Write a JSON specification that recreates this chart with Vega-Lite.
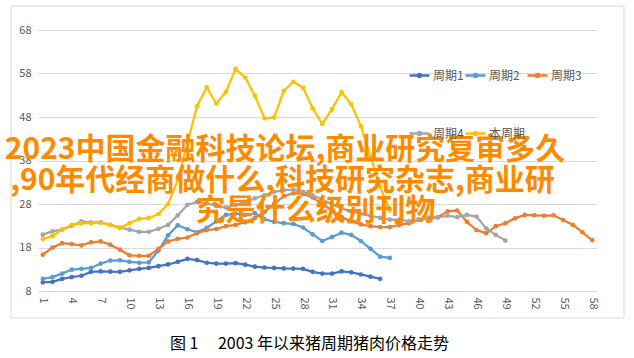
{
  "$schema": "https://vega.github.io/schema/vega-lite/v6.json",
  "width": 559,
  "height": 261,
  "autosize": {"type": "none"},
  "padding": {"left": 38, "top": 30, "right": 37, "bottom": 67},
  "background": "white",
  "title": {
    "text": "图 1\u3000 2003 年以来猪周期猪肉价格走势",
    "orient": "bottom",
    "anchor": "middle",
    "fontSize": 16,
    "fontWeight": "normal",
    "font": "Noto Sans CJK SC",
    "color": "#000000",
    "offset": 18,
    "dx": -8
  },
  "config": {
    "view": {"stroke": null},
    "font": "Noto Sans CJK SC",
    "axis": {"labelColor": "#595959", "labelFontSize": 11, "titleColor": "#595959"}
  },
  "layer": [
    {
      "data": {"values": [{"box": "chart area"}]},
      "mark": {"type": "rect", "fill": null, "stroke": "#D9D9D9", "strokeWidth": 1, "clip": false},
      "encoding": {
        "x": {
          "datum": -2.3, "type": "quantitative",
          "axis": {
            "title": null, "grid": false, "ticks": false,
            "values": [1,4,7,10,13,16,19,22,25,28,31,34,37,40,43,46,49,52,55,58],
            "labelAngle": 90, "labelAlign": "left", "labelBaseline": "middle",
            "labelOverlap": false, "labelPadding": 6,
            "domainColor": "#D9D9D9", "domainWidth": 1
          }
        },
        "x2": {"datum": 61.3},
        "y": {
          "datum": 73.5, "type": "quantitative",
          "axis": {
            "title": null, "grid": true, "gridColor": "#D9D9D9", "domain": false, "ticks": false,
            "values": [8,18,28,38,48,58,68], "labelPadding": 7
          }
        },
        "y2": {"datum": 1.8}
      }
    },
    {
      "data": {
        "values": [
          {"idx":1,"周期1":10.0,"周期2":10.8,"周期3":16.35,"周期4":20.95,"本周期":19.95},
          {"idx":2,"周期1":10.1,"周期2":11.2,"周期3":18.0,"周期4":21.7,"本周期":20.6},
          {"idx":3,"周期1":10.8,"周期2":12.0,"周期3":19.0,"周期4":22.1,"本周期":22.1},
          {"idx":4,"周期1":11.2,"周期2":12.9,"周期3":18.8,"周期4":23.0,"本周期":23.2},
          {"idx":5,"周期1":11.5,"周期2":13.1,"周期3":18.5,"周期4":24.0,"本周期":23.6},
          {"idx":6,"周期1":12.4,"周期2":13.3,"周期3":19.2,"周期4":23.8,"本周期":23.6},
          {"idx":7,"周期1":12.5,"周期2":14.3,"周期3":19.4,"周期4":23.8,"本周期":23.7},
          {"idx":8,"周期1":12.45,"周期2":15.0,"周期3":18.65,"周期4":23.2,"本周期":23.2},
          {"idx":9,"周期1":12.4,"周期2":15.05,"周期3":17.5,"周期4":22.6,"本周期":22.5},
          {"idx":10,"周期1":12.75,"周期2":14.7,"周期3":16.2,"周期4":22.1,"本周期":23.6},
          {"idx":11,"周期1":13.1,"周期2":14.5,"周期3":16.1,"周期4":21.6,"本周期":24.6},
          {"idx":12,"周期1":13.3,"周期2":14.6,"周期3":16.1,"周期4":21.6,"本周期":24.8},
          {"idx":13,"周期1":13.7,"周期2":17.3,"周期3":17.7,"周期4":22.3,"本周期":25.7},
          {"idx":14,"周期1":14.1,"周期2":20.8,"周期3":19.4,"周期4":23.2,"本周期":28.0},
          {"idx":15,"周期1":14.7,"周期2":23.1,"周期3":20.0,"周期4":25.4,"本周期":33.5},
          {"idx":16,"周期1":15.4,"周期2":22.2,"周期3":20.3,"周期4":27.8,"本周期":42.0},
          {"idx":17,"周期1":15.1,"周期2":21.5,"周期3":21.3,"周期4":28.5,"本周期":50.5},
          {"idx":18,"周期1":14.5,"周期2":22.5,"周期3":22.0,"周期4":28.2,"本周期":54.8},
          {"idx":19,"周期1":14.3,"周期2":24.0,"周期3":22.25,"周期4":27.5,"本周期":51.1},
          {"idx":20,"周期1":14.3,"周期2":25.5,"周期3":22.9,"周期4":27.2,"本周期":53.8},
          {"idx":21,"周期1":14.4,"周期2":25.8,"周期3":23.2,"周期4":27.8,"本周期":59.0},
          {"idx":22,"周期1":14.05,"周期2":25.5,"周期3":23.8,"周期4":28.5,"本周期":57.1},
          {"idx":23,"周期1":13.6,"周期2":25.9,"周期3":24.8,"周期4":29.3,"本周期":52.9},
          {"idx":24,"周期1":13.4,"周期2":24.5,"周期3":26.2,"周期4":30.0,"本周期":47.7},
          {"idx":25,"周期1":13.3,"周期2":23.9,"周期3":28.0,"周期4":30.8,"本周期":47.9},
          {"idx":26,"周期1":13.2,"周期2":23.6,"周期3":29.8,"周期4":31.2,"本周期":54.0},
          {"idx":27,"周期1":13.15,"周期2":23.4,"周期3":30.5,"周期4":31.3,"本周期":56.1},
          {"idx":28,"周期1":13.1,"周期2":22.6,"周期3":30.3,"周期4":30.8,"本周期":54.7},
          {"idx":29,"周期1":12.4,"周期2":21.0,"周期3":29.5,"周期4":30.0,"本周期":50.0},
          {"idx":30,"周期1":12.0,"周期2":19.5,"周期3":28.0,"周期4":29.0,"本周期":46.4},
          {"idx":31,"周期1":12.0,"周期2":20.4,"周期3":26.5,"周期4":28.0,"本周期":49.8},
          {"idx":32,"周期1":12.5,"周期2":21.4,"周期3":25.0,"周期4":27.0,"本周期":53.7},
          {"idx":33,"周期1":12.3,"周期2":20.9,"周期3":24.0,"周期4":26.3,"本周期":50.9},
          {"idx":34,"周期1":11.8,"周期2":19.5,"周期3":23.3,"周期4":25.8,"本周期":45.9},
          {"idx":35,"周期1":11.3,"周期2":17.7,"周期3":22.9,"周期4":25.3,"本周期":38.9},
          {"idx":36,"周期1":10.8,"周期2":15.9,"周期3":22.7,"周期4":24.8,"本周期":32.0},
          {"idx":37,"周期2":15.6,"周期3":22.7,"周期4":24.4,"本周期":26.5},
          {"idx":38,"周期3":23.2,"周期4":24.4},
          {"idx":39,"周期3":23.6,"周期4":24.0},
          {"idx":40,"周期3":24.4,"周期4":24.4},
          {"idx":41,"周期3":24.8,"周期4":24.8},
          {"idx":42,"周期3":25.0,"周期4":24.9},
          {"idx":43,"周期3":26.3,"周期4":25.3},
          {"idx":44,"周期3":26.5,"周期4":25.0},
          {"idx":45,"周期3":23.9,"周期4":25.5},
          {"idx":46,"周期3":22.0,"周期4":25.1},
          {"idx":47,"周期3":21.3,"周期4":22.4},
          {"idx":48,"周期3":22.9,"周期4":20.9},
          {"idx":49,"周期3":23.6,"周期4":19.6},
          {"idx":50,"周期3":24.7},
          {"idx":51,"周期3":25.5},
          {"idx":52,"周期3":25.4},
          {"idx":53,"周期3":25.3},
          {"idx":54,"周期3":25.4},
          {"idx":55,"周期3":24.3},
          {"idx":56,"周期3":23.2},
          {"idx":57,"周期3":21.5},
          {"idx":58,"周期3":19.7}
        ]
      },
      "transform": [
        {"fold": ["周期1", "周期2", "周期3", "周期4", "本周期"], "as": ["series", "price"]},
        {"filter": "datum.price != null"}
      ],
      "mark": {"type": "line", "strokeWidth": 2.25, "point": {"filled": true, "size": 22}},
      "encoding": {
        "x": {
          "field": "idx", "type": "quantitative",
          "scale": {"domain": [0.5, 58.5], "nice": false, "zero": false},
          "axis": {
            "title": null, "grid": false, "ticks": false,
            "values": [1,4,7,10,13,16,19,22,25,28,31,34,37,40,43,46,49,52,55,58],
            "labelAngle": 90, "labelAlign": "left", "labelBaseline": "middle",
            "labelOverlap": false, "labelPadding": 6,
            "domainColor": "#D9D9D9", "domainWidth": 1
          }
        },
        "y": {
          "field": "price", "type": "quantitative",
          "scale": {"domain": [8, 68], "nice": false, "zero": false},
          "axis": {
            "title": null, "grid": true, "gridColor": "#D9D9D9", "domain": false, "ticks": false,
            "values": [8,18,28,38,48,58,68], "labelPadding": 7
          }
        },
        "color": {
          "field": "series", "type": "nominal",
          "scale": {
            "domain": ["周期1", "周期2", "周期3", "周期4", "本周期"],
            "range": ["#4472C4", "#5B9BD5", "#ED7D31", "#A5A5A5", "#FFC000"]
          },
          "legend": {
            "title": null, "orient": "none", "legendX": 370, "legendY": 34,
            "direction": "horizontal",
            "columns": 3, "columnPadding": -4, "rowPadding": 40,
            "symbolType": "M-1,0H1M-0.15,0a0.15,0.15 0 1,0 0.3,0a0.15,0.15 0 1,0 -0.3,0",
            "symbolSize": 400, "symbolStrokeWidth": 2.5,
            "labelFontSize": 12, "labelColor": "#595959", "labelOffset": 2
          }
        },
        "order": {"field": "idx", "type": "quantitative"}
      }
    },
    {
      "data": {"values": [{"t": "2023中国金融科技论坛,商业研究复审多久"}]},
      "mark": {
        "type": "text", "fontSize": 30, "fontWeight": "bold",
        "font": "Noto Sans CJK SC", "color": "#FF8A00",
        "align": "center", "baseline": "middle"
      },
      "encoding": {
        "text": {"field": "t"},
        "x": {
          "datum": 26.13, "type": "quantitative",
          "axis": {
            "title": null, "grid": false, "ticks": false,
            "values": [1,4,7,10,13,16,19,22,25,28,31,34,37,40,43,46,49,52,55,58],
            "labelAngle": 90, "labelAlign": "left", "labelBaseline": "middle",
            "labelOverlap": false, "labelPadding": 6,
            "domainColor": "#D9D9D9", "domainWidth": 1
          }
        },
        "y": {
          "datum": 40.3, "type": "quantitative",
          "axis": {
            "title": null, "grid": true, "gridColor": "#D9D9D9", "domain": false, "ticks": false,
            "values": [8,18,28,38,48,58,68], "labelPadding": 7
          }
        }
      }
    },
    {
      "data": {"values": [{"t": ",90年代经商做什么,科技研究杂志,商业研"}]},
      "mark": {
        "type": "text", "fontSize": 30, "fontWeight": "bold",
        "font": "Noto Sans CJK SC", "color": "#FF8A00",
        "align": "center", "baseline": "middle"
      },
      "encoding": {
        "text": {"field": "t"},
        "x": {
          "datum": 25.87, "type": "quantitative",
          "axis": {
            "title": null, "grid": false, "ticks": false,
            "values": [1,4,7,10,13,16,19,22,25,28,31,34,37,40,43,46,49,52,55,58],
            "labelAngle": 90, "labelAlign": "left", "labelBaseline": "middle",
            "labelOverlap": false, "labelPadding": 6,
            "domainColor": "#D9D9D9", "domainWidth": 1
          }
        },
        "y": {
          "datum": 33.4, "type": "quantitative",
          "axis": {
            "title": null, "grid": true, "gridColor": "#D9D9D9", "domain": false, "ticks": false,
            "values": [8,18,28,38,48,58,68], "labelPadding": 7
          }
        }
      }
    },
    {
      "data": {"values": [{"t": "究是什么级别刊物"}]},
      "mark": {
        "type": "text", "fontSize": 30, "fontWeight": "bold",
        "font": "Noto Sans CJK SC", "color": "#FF8A00",
        "align": "center", "baseline": "middle"
      },
      "encoding": {
        "text": {"field": "t"},
        "x": {
          "datum": 29.29, "type": "quantitative",
          "axis": {
            "title": null, "grid": false, "ticks": false,
            "values": [1,4,7,10,13,16,19,22,25,28,31,34,37,40,43,46,49,52,55,58],
            "labelAngle": 90, "labelAlign": "left", "labelBaseline": "middle",
            "labelOverlap": false, "labelPadding": 6,
            "domainColor": "#D9D9D9", "domainWidth": 1
          }
        },
        "y": {
          "datum": 26.28, "type": "quantitative",
          "axis": {
            "title": null, "grid": true, "gridColor": "#D9D9D9", "domain": false, "ticks": false,
            "values": [8,18,28,38,48,58,68], "labelPadding": 7
          }
        }
      }
    }
  ]
}
